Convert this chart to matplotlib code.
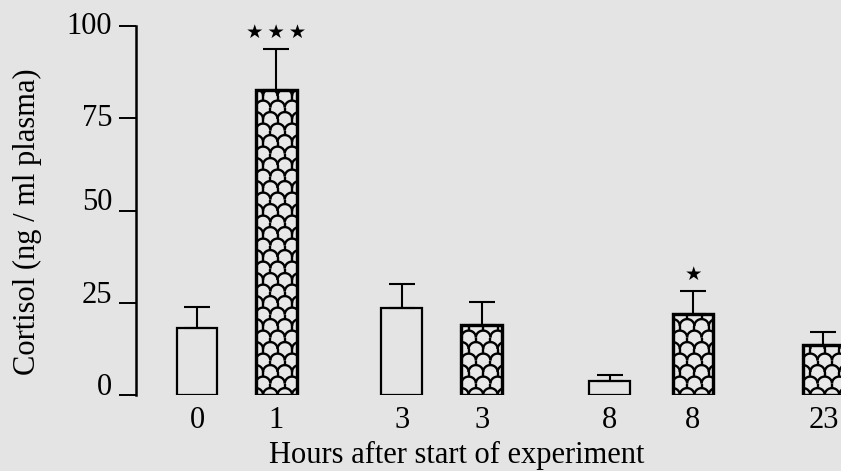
import numpy as np
import matplotlib
matplotlib.use("Agg")
import matplotlib.pyplot as plt
from matplotlib.collections import LineCollection

# ---- data ----
hours = ["0", "1", "3", "3", "8", "8", "23"]
cortisol_mean = [18.2, 82.7, 23.6, 19.0, 3.8, 22.0, 13.6]
cortisol_sem = [5.6, 11.1, 6.5, 6.2, 1.6, 6.2, 3.5]
treated = [False, True, False, True, False, True, True]
significance = ["", "★\u2009★\u2009★", "", "", "", "★", ""]
ylabel_text = "Cortisol (ng / ml plasma)"
xlabel_text = "Hours after start of experiment"
yticks = [0, 25, 50, 75, 100]

# ---- layout ----
xpos = [0.0, 0.99, 2.56, 3.56, 5.16, 6.20, 7.83]
bar_width = 0.51
bg = "#e4e4e4"
serif = ["Liberation Serif", "DejaVu Serif"]

W, H = 841, 471
fig = plt.figure(figsize=(W / 100, H / 100), dpi=100, facecolor=bg)
ax_left, ax_right = 136 / W, 1.0
ax_bottom, ax_top = (H - 395) / H, (H - 26) / H
ax = fig.add_axes([ax_left, ax_bottom, ax_right - ax_left, ax_top - ax_bottom])
ax.set_facecolor(bg)
ax.set_xlim(-0.7625, 8.05)
ax.set_ylim(0, 100)

for s in ["top", "right", "bottom"]:
    ax.spines[s].set_visible(False)
ax.spines["left"].set_linewidth(1.8)

# scale per pixel in data units
x_per_px = (ax.get_xlim()[1] - ax.get_xlim()[0]) / ((ax_right - ax_left) * W)
y_per_px = 100 / ((ax_top - ax_bottom) * H)


def scale_pattern(rect, sw_px=14.5, sh_px=11.5, dome_frac=0.6, lw=1.7):
    """Fish-scale (dome + stem) pattern clipped to a bar rectangle."""
    sw = sw_px * x_per_px
    sh = sh_px * y_per_px
    a = dome_frac * sh
    x0, w = rect.get_x(), rect.get_width()
    h = rect.get_height()
    t = np.linspace(0, np.pi, 25)
    segs = []
    nrows = int(h / sh) + 3
    ncols = int(w / sw) + 3
    for r in range(-1, nrows):
        yb = r * sh
        off = (r % 2) * sw / 2
        for k in range(-1, ncols):
            cx = x0 + off + k * sw
            segs.append(np.column_stack([cx + sw / 2 * np.cos(t), yb + a * np.sin(t)]))
            jx = cx + sw / 2
            segs.append(np.array([[jx, yb], [jx, yb - sh + a]]))
    lc = LineCollection(segs, colors="k", linewidths=lw, zorder=2.5)
    ax.add_collection(lc)
    lc.set_clip_path(rect)


for x, m, tr in zip(xpos, cortisol_mean, treated):
    bars = ax.bar(x, m, width=bar_width, facecolor=bg if not tr else "#e8e8e8",
                  edgecolor="k", linewidth=2.2 if tr else 1.6, zorder=2)
    rect = bars[0]
    if tr:
        scale_pattern(rect)
        ax.bar(x, m, width=bar_width, facecolor="none", edgecolor="k",
               linewidth=2.4, zorder=3)

ax.errorbar(xpos, cortisol_mean, yerr=[np.zeros(len(cortisol_sem)), cortisol_sem],
            fmt="none", ecolor="k", elinewidth=1.5, capsize=9.5, capthick=1.5, zorder=4)

for x, m, e, s in zip(xpos, cortisol_mean, cortisol_sem, significance):
    if s:
        ax.text(x, m + e + 4.4, s, ha="center", va="center", fontsize=14,
                family=["DejaVu Sans"], color="k", clip_on=False)

# axes ticks
ax.set_yticks(yticks)
ax.set_yticklabels([str(v) for v in yticks], family=serif, fontsize=22)
ax.tick_params(axis="y", length=12.2, width=1.4, pad=5, direction="out", colors="k")
for lbl, va in zip(ax.get_yticklabels(), ["baseline", "baseline", "baseline", "center", "center"]):
    lbl.set_va(va)

ax.set_xticks(xpos)
ax.set_xticklabels(hours, family=serif, fontsize=22)
ax.tick_params(axis="x", length=0, pad=8)

ax.set_ylabel(ylabel_text, family=serif, fontsize=22)
ax.yaxis.set_label_coords(-0.133, 0.47)
ax.set_xlabel(xlabel_text, family=serif, fontsize=22)
ax.xaxis.set_label_coords(0.4546, -0.125)

fig.savefig("out.png", dpi=100, facecolor=bg)
